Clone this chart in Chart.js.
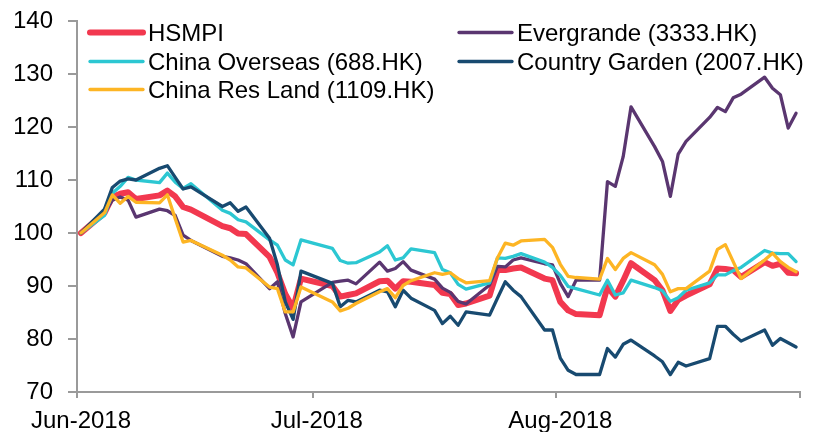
<!DOCTYPE html>
<html>
<head>
<meta charset="utf-8">
<title>HSMPI vs China developers</title>
<script src="https://cdn.jsdelivr.net/npm/chart.js"></script>
<style>
    html, body { margin: 0; padding: 0; background: #fff; }
    #wrap { width: 819px; height: 432px; position: relative; }
</style>
</head>
<body>
<div id="wrap"><canvas id="price-chart"></canvas></div>
<script>
// HK trading days, Jun-Aug 2018 (18 Jun and 2 Jul were holidays)
const dates = [
    '2018-06-01', '2018-06-04', '2018-06-05', '2018-06-06', '2018-06-07', '2018-06-08',
    '2018-06-11', '2018-06-12', '2018-06-13', '2018-06-14', '2018-06-15',
    '2018-06-19', '2018-06-20', '2018-06-21', '2018-06-22',
    '2018-06-25', '2018-06-26', '2018-06-27', '2018-06-28', '2018-06-29',
    '2018-07-03', '2018-07-04', '2018-07-05', '2018-07-06',
    '2018-07-09', '2018-07-10', '2018-07-11', '2018-07-12', '2018-07-13',
    '2018-07-16', '2018-07-17', '2018-07-18', '2018-07-19', '2018-07-20',
    '2018-07-23', '2018-07-24', '2018-07-25', '2018-07-26', '2018-07-27',
    '2018-07-30', '2018-07-31', '2018-08-01', '2018-08-02', '2018-08-03',
    '2018-08-06', '2018-08-07', '2018-08-08', '2018-08-09', '2018-08-10',
    '2018-08-13', '2018-08-14', '2018-08-15', '2018-08-16', '2018-08-17',
    '2018-08-20', '2018-08-21', '2018-08-22', '2018-08-23', '2018-08-24',
    '2018-08-27', '2018-08-28', '2018-08-29', '2018-08-30', '2018-08-31'
];

// rebased to 100 on 1 Jun 2018
const hsmpi = [
    100, 103.8, 106.8, 107.4, 107.7, 106.4, 107.1, 108.0, 106.9, 104.9, 104.4,
    101.3, 100.9, 99.9, 99.8, 95.5, 92.5, 88.5, 85.8, 91.4,
    90.0, 88.0, 88.3, 88.6, 90.9, 91.0, 89.5, 90.9, 90.8, 90.2, 88.7, 88.5, 86.4, 86.7,
    88.2, 93.0, 93.0, 93.3, 93.5, 91.4, 91.1,
    87.0, 85.4, 84.7, 84.5, 89.8, 88.0, 91.0, 94.3, 91.1, 89.2, 85.3, 87.4, 88.2,
    90.3, 93.3, 93.2, 93.0, 91.7, 94.5, 93.8, 94.2, 92.5, 92.4
];
const evergrande = [
    100, 103.8, 106.2, 106.8, 106.2, 103.0, 104.5, 104.2, 103.3, 99.6, 98.6,
    95.6, 95.3, 94.9, 94.2, 89.5, 90.8, 84.8, 80.4, 87.0,
    90.7, 90.9, 91.1, 90.4, 94.5, 92.8, 93.3, 94.6, 93.0, 91.3, 89.6, 88.8, 87.1, 86.6,
    90.2, 93.7, 93.6, 94.9, 95.3, 94.2, 94.0,
    90.5, 88.0, 91.1, 91.1, 109.7, 108.8, 114.4, 123.8, 116.3, 113.5, 106.9, 114.9, 117.3,
    121.8, 123.7, 122.9, 125.5, 126.2, 129.4, 127.3, 126.1, 119.8, 122.6
];
const chinaOverseas = [
    100, 103.3, 107.5, 108.8, 110.5, 110.0, 109.5, 111.3, 109.6, 108.4, 109.3,
    104.3, 103.7, 102.5, 102.1, 98.7, 97.7, 94.9, 94.0, 98.7,
    97.1, 94.8, 94.3, 94.4, 96.4, 97.6, 94.9, 95.3, 97.0, 96.3, 93.1, 92.5, 90.3, 89.4,
    90.6, 95.3, 95.2, 95.6, 96.1, 94.5, 93.5,
    92.0, 89.9, 89.5, 88.3, 91.1, 88.3, 88.7, 91.1, 89.7, 89.1, 87.1, 87.8, 89.2,
    90.6, 92.1, 92.1, 92.9, 93.5, 96.7, 96.2, 96.1, 96.1, 94.6
];
const countryGarden = [
    100, 104.5, 108.6, 109.8, 110.2, 110.0, 112.2, 112.7, 110.5, 108.3, 108.7,
    105.0, 105.7, 104.1, 104.9, 99.0, 94.0, 87.0, 83.7, 92.8,
    90.5, 86.1, 87.3, 87.0, 89.2, 88.9, 86.1, 89.2, 87.7, 85.4, 82.9, 84.3, 82.6, 85.1,
    84.5, 87.7, 90.8, 89.2, 88.0, 81.7, 81.7,
    76.4, 74.1, 73.3, 73.3, 78.2, 76.6, 79.0, 79.8, 76.8, 75.7, 73.3, 75.6, 74.9,
    76.3, 82.4, 82.4, 80.9, 79.6, 81.7, 78.8, 80.1, 79.3, 78.5
];
const chinaResLand = [
    100, 103.8, 107.2, 105.6, 106.9, 105.8, 105.7, 107.2, 102.7, 98.3, 98.6,
    95.8, 94.9, 93.6, 93.4, 89.8, 89.5, 85.1, 85.1, 89.8,
    87.0, 85.3, 85.8, 86.7, 88.9, 89.5, 87.8, 90.1, 91.0, 92.5, 92.2, 92.5, 91.4, 90.6,
    91.0, 95.3, 98.1, 97.7, 98.5, 98.8, 97.3,
    94.1, 91.8, 91.6, 91.3, 95.2, 93.1, 95.2, 96.3, 94.0, 92.2, 88.9, 89.5, 89.5,
    92.8, 96.9, 97.8, 94.6, 91.4, 94.9, 96.2, 94.6, 93.5, 92.7
];

const seriesNames = ['HSMPI', 'Evergrande (3333.HK)', 'China Overseas (688.HK)',
    'Country Garden (2007.HK)', 'China Res Land (1109.HK)'];

// x axis: days since 1 Jun 2018, month starts as ticks
const xTickDays = [0, 30, 61, 92];
const xTickLabels = ['Jun-2018', 'Jul-2018', 'Aug-2018', ''];
const yTickValues = [70, 80, 90, 100, 110, 120, 130, 140];

const FONT = "'Liberation Sans', Arial, sans-serif";

function dayOffset(s) {
    const p = s.split('-').map(Number);
    return (Date.UTC(p[0], p[1] - 1, p[2]) - Date.UTC(2018, 5, 1)) / 86400000;
}

// Excel's date axis puts each point in the middle of its day
const xs = dates.map(d => dayOffset(d) + 0.5);

function toPoints(values) {
    return values.map((v, i) => ({ x: xs[i], y: v }));
}

function makeSeries(label, values, color, width, order) {
    return {
        label: label,
        data: toPoints(values),
        borderColor: color,
        backgroundColor: color,
        borderWidth: width,
        pointRadius: 0,
        tension: 0,
        borderJoinStyle: 'round',
        borderCapStyle: 'round',
        order: order
    };
}

// legend in two columns, like the original
const legendPlugin = {
    id: 'twoColLegend',
    afterDraw(chart) {
        const ctx = chart.ctx;
        const colX = [90, 459];
        const rowY = [32.5, 61.5, 89.5];
        ctx.save();
        chart.data.datasets.forEach((ds, i) => {
            const x = colX[i % 2];
            const y = rowY[Math.floor(i / 2)];
            ctx.strokeStyle = ds.borderColor;
            ctx.lineWidth = ds.borderWidth;
            ctx.lineCap = 'round';
            ctx.beginPath();
            ctx.moveTo(x, y);
            ctx.lineTo(x + 53, y);
            ctx.stroke();
            ctx.fillStyle = '#000';
            ctx.font = '24px ' + FONT;
            ctx.textBaseline = 'alphabetic';
            ctx.textAlign = 'left';
            ctx.fillText(ds.label, x + 58, y + 8.5);
        });
        ctx.restore();
    }
};

// pin the axis boxes so the plot area lands where the original's does
function noPad(scale) {
    scale.paddingLeft = 0;
    scale.paddingRight = 0;
    scale.paddingTop = 0;
    scale.paddingBottom = 0;
}

Chart.defaults.font.family = FONT;
Chart.defaults.font.size = 24;
Chart.defaults.color = '#000';

new Chart(document.getElementById('price-chart'), {
    type: 'line',
    data: {
        datasets: [
            makeSeries(seriesNames[0], hsmpi, '#f2384f', 6, 5),
            makeSeries(seriesNames[1], evergrande, '#5a3670', 3.3, 4),
            makeSeries(seriesNames[2], chinaOverseas, '#2cc7d2', 3.3, 3),
            makeSeries(seriesNames[3], countryGarden, '#184a70', 3.3, 2),
            makeSeries(seriesNames[4], chinaResLand, '#fdb524', 3.3, 1)
        ]
    },
    options: {
        responsive: true,
        maintainAspectRatio: false,
        devicePixelRatio: 1,
        animation: false,
        layout: {
            padding: { left: 15, right: 19, top: 21, bottom: 0 }
        },
        plugins: {
            legend: { display: false },
            tooltip: { enabled: false }
        },
        scales: {
            x: {
                type: 'linear',
                min: 0,
                max: 92,
                afterBuildTicks: axis => {
                    axis.ticks = xTickDays.map(v => ({ value: v }));
                },
                afterFit: scale => {
                    scale.height = 40;
                    noPad(scale);
                },
                ticks: {
                    autoSkip: false,
                    maxRotation: 0,
                    padding: 9,
                    labelOffset: 4,
                    callback: v => {
                        const i = xTickDays.indexOf(v);
                        return i >= 0 ? xTickLabels[i] : '';
                    }
                },
                grid: {
                    drawOnChartArea: false,
                    drawTicks: true,
                    tickLength: 6,
                    color: '#9a9a9a',
                    lineWidth: 2
                },
                border: { color: '#9a9a9a', width: 2 }
            },
            y: {
                min: 70,
                max: 140,
                afterBuildTicks: axis => {
                    axis.ticks = yTickValues.map(v => ({ value: v }));
                },
                afterFit: scale => {
                    scale.width = 62;
                    noPad(scale);
                },
                ticks: {
                    padding: 15
                },
                grid: {
                    drawOnChartArea: false,
                    drawTicks: true,
                    tickLength: 9,
                    color: '#9a9a9a',
                    lineWidth: 2
                },
                border: { color: '#9a9a9a', width: 2 }
            }
        }
    },
    plugins: [legendPlugin]
});
</script>
</body>
</html>
